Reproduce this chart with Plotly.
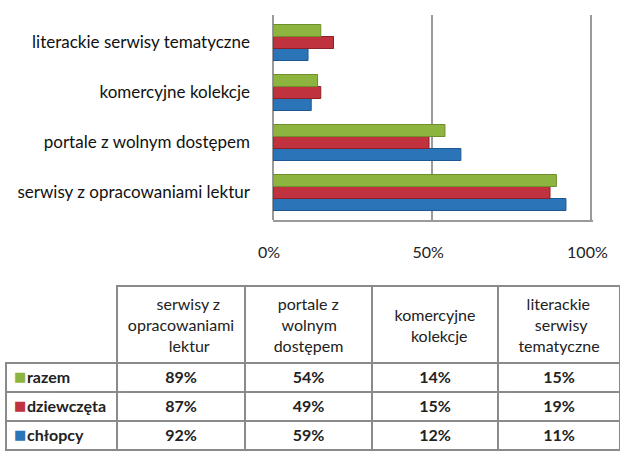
import plotly.graph_objects as go

categories = ["serwisy z opracowaniami lektur", "portale z wolnym dostępem",
              "komercyjne kolekcje", "literackie serwisy tematyczne"]
table_header_lines = [["serwisy z", "opracowaniami", "lektur"],
                      ["portale z", "wolnym", "dostępem"],
                      ["komercyjne", "kolekcje"],
                      ["literackie", "serwisy", "tematyczne"]]
series_names = ["razem", "dziewczęta", "chłopcy"]
razem = [89, 54, 14, 15]
dziewczeta = [87, 49, 15, 19]
chlopcy = [92, 59, 12, 11]
colors = {"razem": "#8DB43E", "dziewczęta": "#C0323D", "chłopcy": "#2C74B8"}
edge = {"razem": "#6E8F2C", "dziewczęta": "#8E1F28", "chłopcy": "#1D5690"}
tick_vals = [0, 50, 100]
tick_text = ["0%", "50%", "100%"]

W, H = 620, 451
FONT = "Lato"
HFS = 16  # header font size
CLEAR = "rgba(0,0,0,0)"
GRID = "#8a8a8a"

# approximate Lato advance widths (em) to centre each header line with nbsp padding
CW = dict(a=.50, b=.56, c=.45, d=.56, e=.51, k=.50, l=.24, m=.83, n=.56, o=.56,
          p=.55, r=.37, s=.41, t=.34, u=.56, w=.77, y=.50, z=.44, i=.25, j=.25)
CW["ę"] = .51
CW[" "] = .19
NBSP_W = .19


def text_w(s):
    return sum(CW.get(ch, .5) for ch in s)


def centred(lines):
    mw = max(text_w(l) for l in lines)
    out = []
    for l in lines:
        pad = int((mw - text_w(l)) / 2 / NBSP_W)
        out.append("\u00a0" * pad + l)
    return "<br>".join(out)


table_headers = [centred(h) for h in table_header_lines]
three_line = [len(h) == 3 for h in table_header_lines]

fig = go.Figure()
for name, vals in [("chłopcy", chlopcy), ("dziewczęta", dziewczeta), ("razem", razem)]:
    fig.add_trace(go.Bar(
        y=categories, x=vals, name=name, orientation="h",
        marker=dict(color=colors[name], line=dict(color=edge[name], width=1)),
        hoverinfo="x+name",
    ))

# ---- data table -------------------------------------------------------
series_vals = {"razem": razem, "dziewczęta": dziewczeta, "chłopcy": chlopcy}
cols = [[""] * len(series_names)]
for i in range(len(categories)):
    cols.append([f"{series_vals[n][i]}%" for n in series_names])

TOP = 286
COLW = [111, 128, 127, 126, 122]
edges = [6]
for w_ in COLW:
    edges.append(edges[-1] + w_)
TABLE_Y = [0, 1 - TOP / H]
header_line = [CLEAR] + [GRID] * 4
fig.add_trace(go.Table(
    domain=dict(x=[edges[0] / W, 1.0], y=TABLE_Y),
    columnwidth=COLW,
    header=dict(values=[""] + [h if t else "" for h, t in zip(table_headers, three_line)],
                fill_color=CLEAR,
                line=dict(color=header_line, width=1.5),
                align="center", height=77,
                font=dict(family=FONT, size=HFS, color="#222")),
    cells=dict(values=cols, fill_color=CLEAR,
               line=dict(color=GRID, width=1.5),
               align="center", height=29,
               font=dict(family=FONT, size=16, color="#222", weight="bold")),
))

# two-line headers, vertically centred in their header cell
for i, (h, t) in enumerate(zip(table_headers, three_line)):
    if t:
        continue
    fig.add_trace(go.Table(
        domain=dict(x=[edges[i + 1] / W, edges[i + 2] / W], y=[0, 1 - (TOP + 11) / H]),
        header=dict(values=[h], fill_color=CLEAR, line=dict(color=CLEAR, width=0),
                    align="center", height=60,
                    font=dict(family=FONT, size=HFS, color="#222")),
        cells=dict(values=[[""]], fill_color=CLEAR, line=dict(color=CLEAR, width=0)),
    ))

# coloured legend keys of the table rows
fig.add_trace(go.Table(
    domain=dict(x=[edges[0] / W, 40 / W], y=TABLE_Y),
    header=dict(values=[""], fill_color=CLEAR, line=dict(color=CLEAR, width=0), height=77),
    cells=dict(values=[["■"] * len(series_names)],
               fill_color=CLEAR, line=dict(color=CLEAR, width=0),
               align="left", height=29,
               font=dict(family="DejaVu Sans", size=13,
                         color=[[colors[n] for n in series_names]])),
))
# row labels of the table
fig.add_trace(go.Table(
    domain=dict(x=[19 / W, edges[1] / W], y=TABLE_Y),
    header=dict(values=[""], fill_color=CLEAR, line=dict(color=CLEAR, width=0), height=77),
    cells=dict(values=[series_names],
               fill_color=CLEAR, line=dict(color=CLEAR, width=0),
               align="left", height=29,
               font=dict(family=FONT, size=16, color="#222", weight="bold")),
))

fig.update_layout(
    width=W, height=H,
    margin=dict(l=0, r=0, t=0, b=0, autoexpand=False),
    paper_bgcolor="white", plot_bgcolor="white",
    barmode="group", bargap=0.28, bargroupgap=0.0,
    showlegend=False,
    font=dict(family=FONT, size=14, color="#222"),
    xaxis=dict(domain=[273 / W, 593 / W], range=[0, 100.5], automargin=False,
               tickvals=tick_vals, ticktext=tick_text,
               showgrid=True, gridcolor="#9a9a9a", gridwidth=1.5,
               zeroline=True, zerolinecolor="#9a9a9a", zerolinewidth=1.5,
               showline=True, linecolor="#9a9a9a", linewidth=1.5,
               ticks="", ticklabelstandoff=17, ticklabelshift=-4,
               tickfont=dict(family=FONT, size=16, color="#222"),
               fixedrange=True),
    yaxis=dict(domain=[1 - 220 / H, 1 - 15 / H], range=[-0.55, 3.55], automargin=False,
               type="category", showgrid=False, ticks="",
               ticklabelstandoff=22,
               tickfont=dict(family=FONT, size=17, color="#111"),
               fixedrange=True),
)

fig.write_html("out.html", config={"displayModeBar": False},
               post_script="document.body.style.margin='0';"
                           "document.documentElement.style.overflow='hidden';")
